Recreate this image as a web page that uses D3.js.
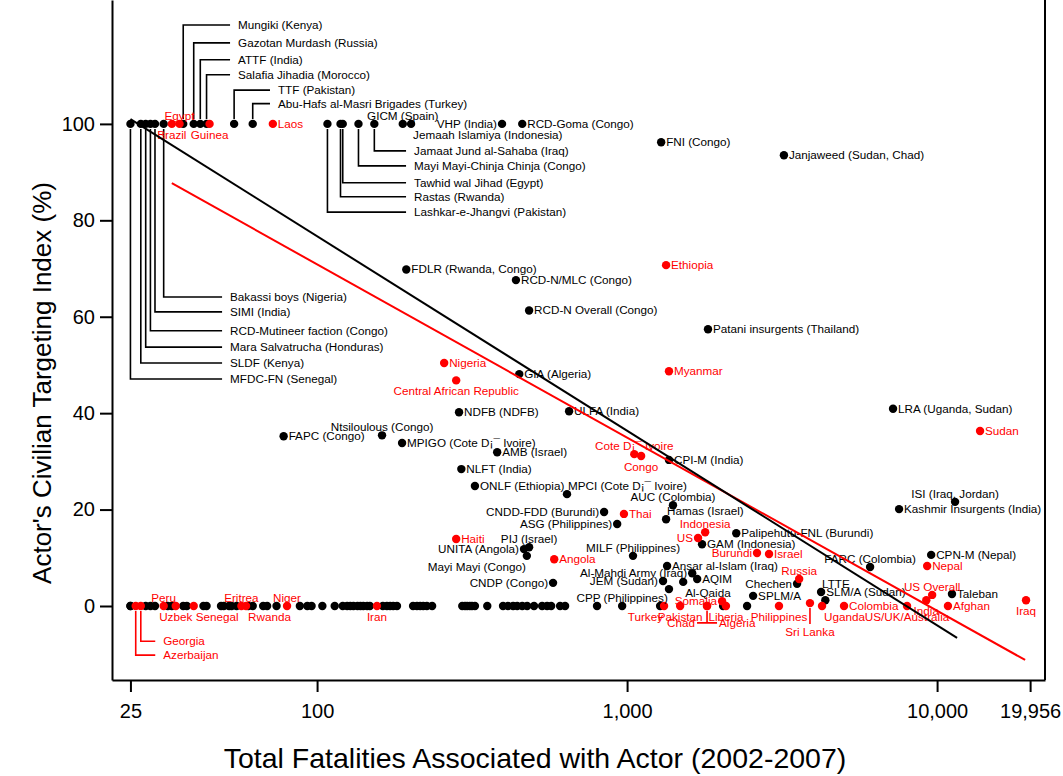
<!DOCTYPE html>
<html>
<head>
<meta charset="utf-8">
<script src="https://cdn.jsdelivr.net/npm/d3@7"></script>
<style>
  body { margin: 0; background: #fff; }
  text { font-family: "Liberation Sans", Arial, sans-serif; }
</style>
</head>
<body>
<div id="chart"></div>
<script>
// ---- data: non-state actors (labelled) ----
var actorNames = [
  "MFDC-FN (Senegal)", "SLDF (Kenya)", "Mara Salvatrucha (Honduras)", "RCD-Mutineer faction (Congo)",
  "SIMI (India)", "Bakassi boys (Nigeria)", "Mungiki (Kenya)", "Gazotan Murdash (Russia)", "ATTF (India)",
  "Salafia Jihadia (Morocco)", "TTF (Pakistan)", "Abu-Hafs al-Masri Brigades (Turkey)",
  "Lashkar-e-Jhangvi (Pakistan)", "Rastas (Rwanda)", "Tawhid wal Jihad (Egypt)",
  "Mayi Mayi-Chinja Chinja (Congo)", "Jamaat Jund al-Sahaba (Iraq)", "GICM (Spain)",
  "Jemaah Islamiya (Indonesia)", "VHP (India)", "RCD-Goma (Congo)", "FNI (Congo)",
  "Janjaweed (Sudan, Chad)", "FDLR (Rwanda, Congo)", "RCD-N/MLC (Congo)", "RCD-N Overall (Congo)",
  "Patani insurgents (Thailand)", "GIA (Algeria)", "NDFB (NDFB)", "ULFA (India)", "LRA (Uganda, Sudan)",
  "FAPC (Congo)", "Ntsiloulous (Congo)", "MPIGO (Cote D\u00a1\u00af Ivoire)", "AMB (Israel)", "CPI-M (India)",
  "NLFT (India)", "ONLF (Ethiopia)", "MPCI (Cote D\u00a1\u00af Ivoire)", "ISI (Iraq, Jordan)", "AUC (Colombia)",
  "Kashmir Insurgents (India)", "CNDD-FDD (Burundi)", "Hamas (Israel)", "ASG (Philippines)",
  "Palipehutu-FNL (Burundi)", "GAM (Indonesia)", "PIJ (Israel)", "UNITA (Angola)", "CPN-M (Nepal)",
  "Mayi Mayi (Congo)", "MILF (Philippines)", "Ansar al-Islam (Iraq)", "FARC (Colombia)",
  "Al-Mahdi Army (Iraq)", "AQIM", "JEM (Sudan)", "Al-Qaida", "CNDP (Congo)", "Chechen", "LTTE",
  "Taleban", "SPLM/A", "SLM/A (Sudan)", "CPP (Philippines)"
];
var actorDeaths = [
  25, 27, 28, 29, 30, 32, 37, 40, 42, 44, 54, 62, 108, 119, 121, 136, 153, 189, 201, 395, 459, 1288,
  3206, 194, 438, 483, 1824, 449, 287, 650, 7210, 78, 162, 188, 381, 1365, 292, 323, 640, 11430, 1406,
  7540, 843, 1336, 929, 2250, 1745, 483, 465, 9570, 475, 1045, 1346, 6080, 1622, 1683, 1306, 1517,
  577, 3535, 4225, 11170, 2550, 4360, 964
];
var actorCti = [
  100, 100, 100, 100, 100, 100, 100, 100, 100, 100, 100, 100, 100, 100, 100, 100, 100, 100, 100, 100,
  100, 96.2, 93.5, 69.8, 67.6, 61.3, 57.4, 48.1, 40.2, 40.4, 40.9, 35.2, 35.4, 33.8, 31.9, 30.3, 28.4,
  24.9, 23.2, 21.6, 20.9, 20.1, 19.5, 18.0, 17.0, 15.1, 12.8, 12.2, 11.8, 10.6, 10.4, 10.4, 8.3, 8.1,
  6.8, 5.6, 5.2, 5.0, 4.8, 4.6, 2.9, 2.5, 2.1, 1.2, 0
];

// ---- data: non-state actors without labels ----
var otherDeaths = [
  25, 25, 28, 29, 30, 33, 34, 37, 38, 43, 44, 49, 50, 52, 53, 55, 60, 62, 67, 69, 74, 88, 93, 96,
  104, 114, 121, 125, 128, 131, 135, 138, 141, 145, 148, 163, 168, 172, 176, 181, 204, 210, 215, 220,
  226, 235, 294, 300, 305, 311, 316, 323, 354, 398, 413, 429, 442, 459, 476, 501, 532, 552, 569, 608,
  631, 800, 1278, 2040, 2438, 1365
];
var otherCti = [
  0, 0, 0, 0, 0, 0, 0, 0, 0, 0, 0, 0, 0, 0, 0, 0, 0, 0, 0, 0, 0, 0, 0, 0, 0, 0, 0, 0, 0, 0, 0, 0, 0, 0,
  0, 0, 0, 0, 0, 0, 0, 0, 0, 0, 0, 0, 0, 0, 0, 0, 0, 0, 0, 0, 0, 0, 0, 0, 0, 0, 0, 0, 0, 0, 0, 0, 0, 0,
  0, 3.5
];

// ---- data: states ----
var stateNames = [
  "Egypt", "Brazil", "Guinea", "Laos", "Ethiopia", "Nigeria", "Central African Republic", "Myanmar",
  "Sudan", "Cote D\u00a1\u00af Ivoire", "Congo", "Thai", "Indonesia", "US", "Haiti", "Burundi", "Israel",
  "Angola", "Nepal", "Russia", "US Overall", "India", "Iraq", "Somalia", "Sri Lanka", "Afghan",
  "Colombia", "US/UK/Australia", "Uganda", "Philippines", "Liberia", "Turkey", "Pakistan", "Chad",
  "Algeria", "Azerbaijan", "Georgia", "Peru", "Uzbek", "Senegal", "Eritrea", "Rwanda", "Niger", "Iran"
];
var stateDeaths = [
  36, 34, 45, 72, 1336, 257, 281, 1365, 13760, 1055, 1110, 977, 1786, 1694, 281, 2625, 2870, 582,
  9290, 3590, 9640, 9230, 19360, 2025, 3890, 10840, 5010, 8000, 4255, 3090, 2084, 1316, 1483, 1811,
  1811, 26, 27, 32, 35, 40, 57, 59, 80, 156
];
var stateCti = [
  100, 100, 100, 100, 70.7, 50.4, 46.8, 48.7, 36.3, 31.5, 31.1, 19.1, 15.3, 14.1, 13.9, 11.0, 10.8,
  9.7, 8.3, 5.6, 2.3, 1.2, 1.2, 1.0, 0.6, 0, 0, 0, 0, 0, 0, 0, 0, 0, 0, 0, 0, 0, 0, 0, 0, 0, 0, 0
];

// ---- fitted lines (end points) ----
var fitActors = [[25, 101], [11600, -6.6]];
var fitStates = [[34, 87.7], [19230, -11.2]];

// ---- axes ----
var xTickValues = [25, 100, 1000, 10000, 19956];
var xTickLabels = ["25", "100", "1,000", "10,000", "19,956"];
var yTickValues = [0, 20, 40, 60, 80, 100];
var xTitle = "Total Fatalities Associated with Actor (2002-2007)";
var yTitle = "Actor's Civilian Targeting Index (%)";

// label side for each marker (default: right)
var labelSide = {
  "VHP (India)": "l", "CNDD-FDD (Burundi)": "l", "ASG (Philippines)": "l", "UNITA (Angola)": "l",
  "Al-Mahdi Army (Iraq)": "l", "JEM (Sudan)": "l", "CNDP (Congo)": "l", "Chechen": "l",
  "US": "l", "Burundi": "l", "Somalia": "l",
  "GICM (Spain)": "t", "Ntsiloulous (Congo)": "t", "AUC (Colombia)": "t", "MILF (Philippines)": "t",
  "PIJ (Israel)": "t", "FARC (Colombia)": "t", "ISI (Iraq, Jordan)": "t", "CPP (Philippines)": "t",
  "Egypt": "t", "Peru": "t", "Eritrea": "t", "Niger": "t", "Cote D\u00a1\u00af Ivoire": "t",
  "Indonesia": "t", "Russia": "t", "US Overall": "t",
  "Brazil": "b", "Guinea": "b", "Central African Republic": "b", "Congo": "b", "Uzbek": "b",
  "Iran": "b", "Pakistan": "b", "Liberia": "b", "Philippines": "b", "India": "b", "Iraq": "b",
  "US/UK/Australia": "b",
  "MPCI (Cote D\u00a1\u00af Ivoire)": "tr", "Hamas (Israel)": "tr", "LTTE": "tr", "SLM/A (Sudan)": "tr",
  "Jemaah Islamiya (Indonesia)": "br", "Al-Qaida": "br", "Senegal": "br", "Rwanda": "br", "Uganda": "br",
  "Mayi Mayi (Congo)": "bl", "Turkey": "bl"
};

// leader-line callouts, label anchor given in data units
var callouts = {
  "Mungiki (Kenya)": ["up", 55.6, 120.5],
  "Gazotan Murdash (Russia)": ["up", 55.6, 116.8],
  "ATTF (India)": ["up", 55.6, 113.3],
  "Salafia Jihadia (Morocco)": ["up", 55.6, 110.2],
  "TTF (Pakistan)": ["up", 74.8, 107.0],
  "Abu-Hafs al-Masri Brigades (Turkey)": ["up", 74.8, 104.2],
  "Bakassi boys (Nigeria)": ["down", 52.4, 64.1],
  "SIMI (India)": ["down", 52.4, 61.0],
  "RCD-Mutineer faction (Congo)": ["down", 52.4, 57.1],
  "Mara Salvatrucha (Honduras)": ["down", 52.4, 53.7],
  "SLDF (Kenya)": ["down", 52.4, 50.4],
  "MFDC-FN (Senegal)": ["down", 52.4, 47.1],
  "Jamaat Jund al-Sahaba (Iraq)": ["down", 205.5, 94.4],
  "Mayi Mayi-Chinja Chinja (Congo)": ["down", 205.5, 91.3],
  "Tawhid wal Jihad (Egypt)": ["down", 205.5, 87.8],
  "Rastas (Rwanda)": ["down", 205.5, 84.9],
  "Lashkar-e-Jhangvi (Pakistan)": ["down", 205.5, 81.7],
  "Georgia": ["down", 31.9, -7.3],
  "Azerbaijan": ["down", 31.9, -10.2],
  "Sri Lanka": ["drop", 0, -5.4],
  "Chad": ["bracketL", 0, -3.5],
  "Algeria": ["bracketR", 0, -3.5]
};

var W = 1063, H = 776;
var svg = d3.select("#chart").append("svg").attr("width", W).attr("height", H);

var x = d3.scaleLog().domain([21.8, 22290]).range([112, 1045]);
var y = d3.scaleLinear().domain([-15.35, 125.7]).range([680, 0]);

var actors = actorNames.map(function (n, i) { return {name: n, d: actorDeaths[i], c: actorCti[i], red: false}; });
var others = otherDeaths.map(function (v, i) { return {name: null, d: v, c: otherCti[i], red: false}; });
var states = stateNames.map(function (n, i) { return {name: n, d: stateDeaths[i], c: stateCti[i], red: true}; });

var RED = "#ff0000";
var FS = 11.7;

// leader lines
var lead = svg.append("g").attr("fill", "none").attr("stroke-width", 1.6);
actors.concat(states).forEach(function (p) {
  var co = callouts[p.name];
  if (!co) return;
  var cx = x(p.d), cy = y(p.c), col = p.red ? RED : "#000";
  var ly = y(co[2]);
  var path;
  if (co[0] === "up") path = "M" + cx + "," + (cy - 5) + "V" + ly + "H" + (x(co[1]) - 8);
  else if (co[0] === "down") path = "M" + cx + "," + (cy + 5) + "V" + ly + "H" + (x(co[1]) - 8);
  else if (co[0] === "drop") path = "M" + cx + "," + (cy + 5) + "V" + (ly - 8);
  else if (co[0] === "bracketL") path = "M" + cx + "," + (cy + 5) + "V" + ly + "M" + (cx - 10) + "," + ly + "H" + (cx + 10);
  else return;
  lead.append("path").attr("d", path).attr("stroke", col);
});

// markers
function dots(data, col) {
  svg.append("g").selectAll("circle").data(data).enter().append("circle")
    .attr("cx", function (d) { return x(d.d); })
    .attr("cy", function (d) { return y(d.c); })
    .attr("r", 4.2)
    .attr("fill", col);
}
dots(others, "#000");
dots(actors, "#000");
dots(states, RED);

// marker labels
var lab = svg.append("g").attr("font-size", FS);
actors.concat(states).forEach(function (p) {
  var cx = x(p.d), cy = y(p.c), col = p.red ? RED : "#000";
  var tx, ty, anchor;
  var co = callouts[p.name];
  if (co) {
    var ly = y(co[2]);
    if (co[0] === "up" || co[0] === "down") { tx = x(co[1]); ty = ly + 4; anchor = "start"; }
    else if (co[0] === "drop") { tx = cx; ty = ly + 4; anchor = "middle"; }
    else if (co[0] === "bracketL") { tx = cx - 12; ty = ly + 4; anchor = "end"; }
    else { tx = cx + 12; ty = ly + 4; anchor = "start"; }
  } else {
    var s = labelSide[p.name] || "r";
    if (s === "r") { tx = cx + 5; ty = cy + 4; anchor = "start"; }
    else if (s === "l") { tx = cx - 5; ty = cy + 4; anchor = "end"; }
    else if (s === "t") { tx = cx; ty = cy - 4; anchor = "middle"; }
    else if (s === "b") { tx = cx; ty = cy + 15; anchor = "middle"; }
    else if (s === "tr") { tx = cx + 1; ty = cy - 4; anchor = "start"; }
    else if (s === "br") { tx = cx + 2; ty = cy + 15; anchor = "start"; }
    else { tx = cx - 1; ty = cy + 15; anchor = "end"; }
  }
  lab.append("text").attr("x", tx).attr("y", ty).attr("text-anchor", anchor)
    .attr("fill", col).text(p.name);
});

// fitted lines
var line = d3.line().x(function (d) { return x(d[0]); }).y(function (d) { return y(d[1]); });
svg.append("path").datum(fitStates).attr("d", line).attr("fill", "none").attr("stroke", RED).attr("stroke-width", 2);
svg.append("path").datum(fitActors).attr("d", line).attr("fill", "none").attr("stroke", "#000").attr("stroke-width", 2);

// axes
var yAxis = svg.append("g").attr("transform", "translate(112,0)")
  .call(d3.axisLeft(y).tickValues(yTickValues).tickSize(12).tickSizeOuter(0).tickPadding(5));
var xAxis = svg.append("g").attr("transform", "translate(0,680)")
  .call(d3.axisBottom(x).tickValues(xTickValues).tickSize(12).tickSizeOuter(0).tickPadding(12)
    .tickFormat(function (d, i) { return xTickLabels[i]; }));
[yAxis, xAxis].forEach(function (g) {
  g.selectAll("path, line").attr("stroke", "#000").attr("stroke-width", 2);
  g.selectAll("text").attr("font-size", 20).attr("fill", "#000")
    .attr("font-family", "'Liberation Sans', Arial, sans-serif");
});
svg.append("line").attr("x1", 1045).attr("x2", 1045).attr("y1", 0).attr("y2", 680)
  .attr("stroke", "#000").attr("stroke-width", 2);

// titles
svg.append("text").attr("x", 535).attr("y", 768).attr("text-anchor", "middle")
  .attr("font-size", 28.5).text(xTitle);
svg.append("text").attr("transform", "translate(51,383) rotate(-90)").attr("text-anchor", "middle")
  .attr("font-size", 26).text(yTitle);
</script>
</body>
</html>
